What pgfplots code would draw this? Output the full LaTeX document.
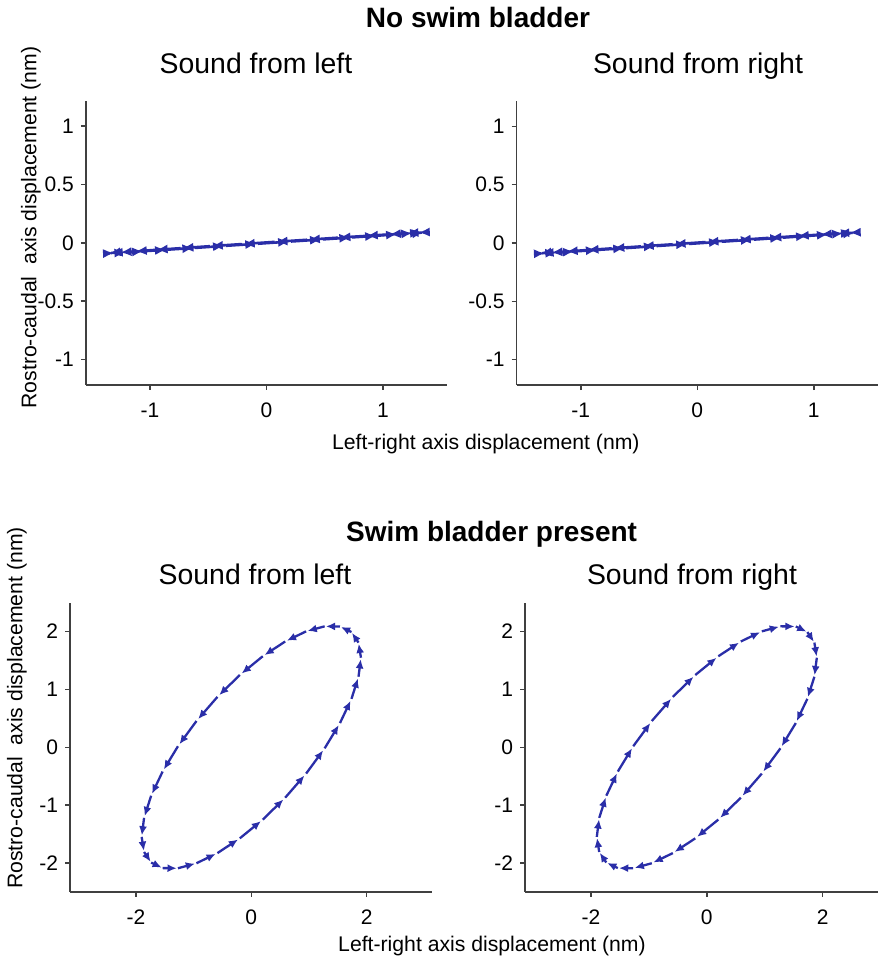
\documentclass[border=0pt]{standalone}
\usepackage{fontspec}
\setmainfont{Liberation Sans}
\usepackage{pgfplots}
\usepackage{pgfplotstable}
\pgfplotsset{compat=1.18}
\usetikzlibrary{arrows.meta}

\definecolor{trace}{RGB}{42,46,168}
\definecolor{spine}{RGB}{64,64,64}

% no swim bladder: thin orbit, x y and step to next sample
\pgfplotstableread{
x y u v
1.348 0.090 -0.044 -0.002
1.304 0.088 -0.101 -0.006
1.203 0.082 -0.154 -0.010
1.049 0.072 -0.199 -0.013
0.850 0.059 -0.237 -0.015
0.613 0.044 -0.264 -0.018
0.349 0.026 -0.278 -0.018
0.071 0.008 -0.282 -0.019
-0.211 -0.011 -0.273 -0.018
-0.484 -0.029 -0.251 -0.017
-0.735 -0.046 -0.220 -0.015
-0.955 -0.061 -0.177 -0.013
-1.132 -0.074 -0.128 -0.009
-1.260 -0.083 -0.073 -0.005
-1.333 -0.088 -0.015 -0.002
-1.348 -0.090 0.044 0.002
-1.304 -0.088 0.101 0.006
-1.203 -0.082 0.154 0.010
-1.049 -0.072 0.199 0.013
-0.850 -0.059 0.237 0.015
-0.613 -0.044 0.264 0.018
-0.349 -0.026 0.278 0.018
-0.071 -0.008 0.282 0.019
0.211 0.011 0.273 0.018
0.484 0.029 0.251 0.017
0.735 0.046 0.220 0.015
0.955 0.061 0.177 0.013
1.132 0.074 0.128 0.009
1.260 0.083 0.073 0.005
1.333 0.088 0.015 0.002
}\flat

% swim bladder present: wide orbit
\pgfplotstableread{
x y u v
1.900 1.548 -0.042 0.261
1.858 1.809 -0.122 0.182
1.736 1.991 -0.199 0.096
1.537 2.087 -0.266 0.003
1.271 2.090 -0.321 -0.087
0.950 2.003 -0.363 -0.175
0.587 1.828 -0.388 -0.255
0.199 1.573 -0.398 -0.324
-0.199 1.249 -0.388 -0.378
-0.587 0.871 -0.363 -0.417
-0.950 0.454 -0.321 -0.436
-1.271 0.018 -0.266 -0.437
-1.537 -0.419 -0.199 -0.418
-1.736 -0.837 -0.122 -0.382
-1.858 -1.219 -0.042 -0.329
-1.900 -1.548 0.042 -0.261
-1.858 -1.809 0.122 -0.182
-1.736 -1.991 0.199 -0.096
-1.537 -2.087 0.266 -0.003
-1.271 -2.090 0.321 0.087
-0.950 -2.003 0.363 0.175
-0.587 -1.828 0.388 0.255
-0.199 -1.573 0.398 0.324
0.199 -1.249 0.388 0.378
0.587 -0.871 0.363 0.417
0.950 -0.454 0.321 0.436
1.271 -0.018 0.266 0.437
1.537 0.419 0.199 0.418
1.736 0.837 0.122 0.382
1.858 1.219 0.042 0.329
}\orbit

\pgfplotsset{
  panel/.style={
    scale only axis,
    axis x line*=bottom, axis y line*=left,
    axis line style={spine, line width=0.75pt, -},
    tick align=outside, major tick length=2.5pt,
    tick style={spine, line width=0.75pt},
    ticklabel style={font=\fontsize{10.5}{12}\selectfont},
    /pgf/number format/assume math mode=true,
    xticklabel shift=3pt,
    clip=false,
  },
  small/.style={panel, width=180.6pt, height=142.2pt,
    xmin=-1.55, xmax=1.55, ymin=-1.22, ymax=1.22,
    xtick={-1,0,1}, ytick={-1,-0.5,0,0.5,1}},
  large/.style={panel, height=144.7pt,
    ymin=-2.5, ymax=2.5,
    xtick={-2,0,2}, ytick={-2,-1,0,1,2}},
  arrowstyle/.style={trace, line width=1.15pt, -{Latex[length=4.6pt,width=4pt]}},
  flatarrow/.style={trace, line width=1.3pt, -{Latex[length=5.6pt,width=4.6pt]}},
}

\begin{document}
\begin{tikzpicture}
\useasboundingbox (0,0) rectangle (443.5pt,479.5pt);

\begin{axis}[small, at={(42.9pt,287pt)}, anchor=south west]
\addplot[flatarrow, quiver={u=\thisrow{u}, v=\thisrow{v}, scale arrows=0.95}] table {\flat};
\end{axis}

\begin{axis}[small, at={(258.35pt,286.9pt)}, anchor=south west]
\addplot[flatarrow, quiver={u=\thisrow{u}, v=\thisrow{v}, scale arrows=0.95}] table {\flat};
\end{axis}

\begin{axis}[large, width=181.2pt, xmin=-3.14, xmax=3.14, at={(35.05pt,33.5pt)}, anchor=south west]
\addplot[arrowstyle, quiver={u=\thisrow{u}, v=\thisrow{v}, scale arrows=0.92}] table {\orbit};
\end{axis}

\begin{axis}[large, width=176.6pt, xmin=-3.14, xmax=2.96, at={(262.5pt,33.5pt)}, anchor=south west]
\addplot[arrowstyle, quiver={u=-\thisrow{u}, v=-\thisrow{v}, scale arrows=0.92}]
  table[x expr=\thisrow{x}+\thisrow{u}, y expr=\thisrow{y}+\thisrow{v}] {\orbit};
\end{axis}

\node[font=\fontsize{14}{16}\selectfont\bfseries, anchor=base] at (239pt,465.9pt) {No swim bladder};
\node[font=\fontsize{14.2}{16}\selectfont, anchor=base] at (128pt,442.9pt) {Sound from left};
\node[font=\fontsize{14.2}{16}\selectfont, anchor=base] at (349pt,442.9pt) {Sound from right};
\node[font=\fontsize{10.6}{12}\selectfont, anchor=base] at (242.9pt,254.5pt) {Left-right axis displacement (nm)};
\node[font=\fontsize{10.6}{12}\selectfont, rotate=90] at (15.4pt,365.7pt) {Rostro-caudal\ \ axis displacement (nm)};

\node[font=\fontsize{14}{16}\selectfont\bfseries, anchor=base] at (245.8pt,208.7pt) {Swim bladder present};
\node[font=\fontsize{14.2}{16}\selectfont, anchor=base] at (127.5pt,187pt) {Sound from left};
\node[font=\fontsize{14.2}{16}\selectfont, anchor=base] at (346pt,187pt) {Sound from right};
\node[font=\fontsize{10.6}{12}\selectfont, anchor=base] at (246pt,3.7pt) {Left-right axis displacement (nm)};
\node[font=\fontsize{10.6}{12}\selectfont, rotate=90] at (8.4pt,125.5pt) {Rostro-caudal\ \ axis displacement (nm)};
\end{tikzpicture}
\end{document}
